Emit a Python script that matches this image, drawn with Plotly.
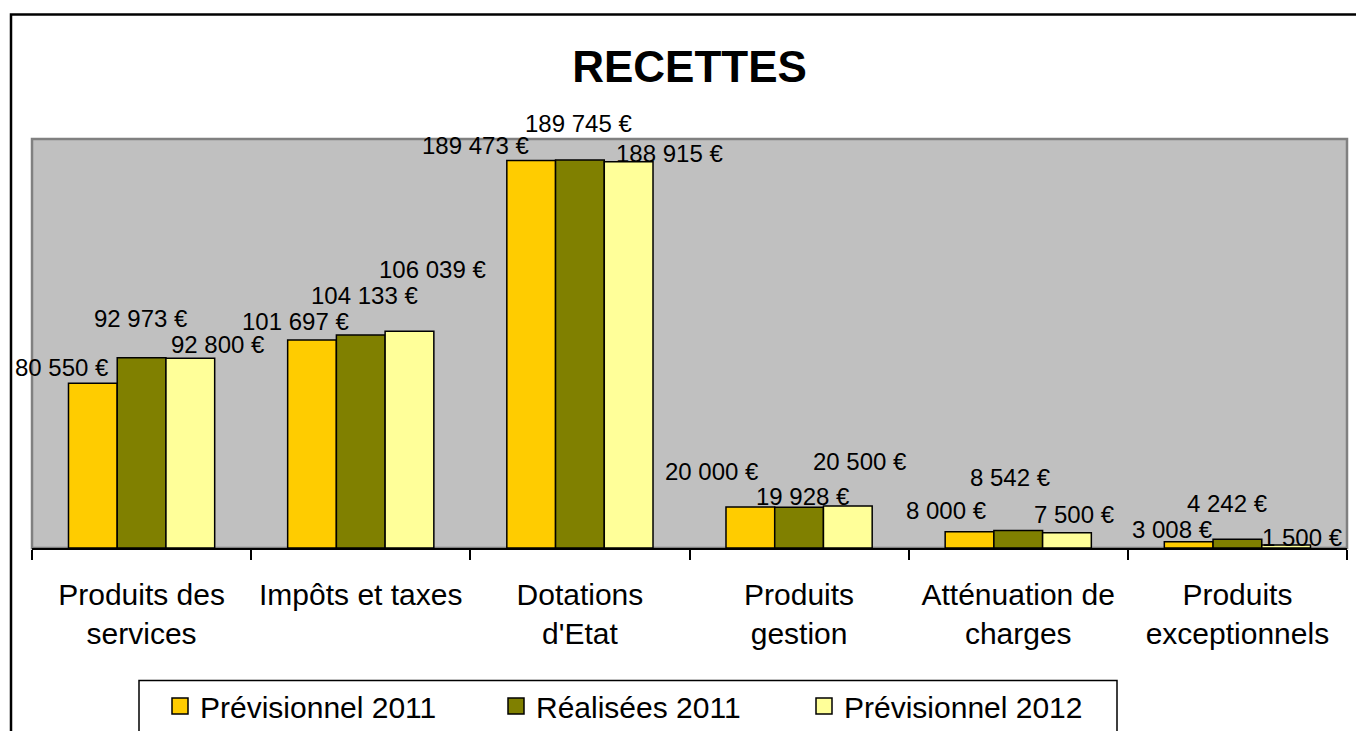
import plotly.graph_objects as go

categories = ["Produits des<br>services", "Impôts et taxes", "Dotations<br>d'Etat",
              "Produits<br>gestion", "Atténuation de<br>charges", "Produits<br>exceptionnels"]
series_names = ["Prévisionnel 2011", "Réalisées 2011", "Prévisionnel 2012"]
prev_2011 = [80550, 101697, 189473, 20000, 8000, 3008]
real_2011 = [92973, 104133, 189745, 19928, 8542, 4242]
prev_2012 = [92800, 106039, 188915, 20500, 7500, 1500]
colors = ["#FFCC00", "#808000", "#FFFF99"]

# label offsets (px) relative to category centre / bar top, as moved in the original
label_dx = [[-80, -65, -104, -87, -72, -65],
            [-1, 4, -1, 4, -8, -10],
            [76, 72, 90, 61, 56, 65]]
label_dy = [[16, 19, 15, 36, 21, 12],
            [39, 40, 36, 11, 53, 36],
            [14, 62, 8, 45, 18, 7]]
legend_widths = [291, 263, 262]

FONT = "Liberation Sans, Arial, sans-serif"

def fmt(v):
    return f"{v:,}".replace(",", " ") + " €"

fig = go.Figure()
all_series = [prev_2011, real_2011, prev_2012]
for i, (name, vals) in enumerate(zip(series_names, all_series)):
    fig.add_trace(go.Bar(
        x=categories, y=vals, name=name,
        marker=dict(color=colors[i], line=dict(color="black", width=1.5)),
        showlegend=False, legendgroup=name,
        hoverinfo="skip",
    ))
# legend entries with larger square swatches
for i, name in enumerate(series_names):
    fig.add_trace(go.Scatter(
        x=[None], y=[None], mode="markers", name=name, legendgroup=name,
        marker=dict(symbol="square", size=16, color=colors[i],
                    line=dict(color="black", width=1.5)),
        legendwidth=legend_widths[i], hoverinfo="skip",
    ))

annotations = []
for i, vals in enumerate(all_series):
    for j, v in enumerate(vals):
        annotations.append(dict(
            x=categories[j], y=v, xref="x", yref="y",
            text=fmt(v), showarrow=False,
            xanchor="center", yanchor="middle",
            xshift=label_dx[i][j], yshift=label_dy[i][j],
            font=dict(family=FONT, size=24, color="black"),
        ))

W, H = 1356, 731
L, R, T, B = 32, 9, 139, 183
pw, ph = W - L - R, H - T - B

def px_x(x):
    return (x - L) / pw

def px_y(y):
    return (H - B - y) / ph

shapes = [
    dict(type="rect", xref="paper", yref="paper", x0=0, x1=1, y0=0, y1=1,
         line=dict(color="#808080", width=2.5), layer="below"),
    # outer chart border (left and top edges visible)
    dict(type="path", xref="paper", yref="paper",
         path=f"M {px_x(11)},{px_y(760)} L {px_x(11)},{px_y(14.5)} L {px_x(1400)},{px_y(14.5)}",
         line=dict(color="black", width=2.5), layer="above"),
    # legend frame
    dict(type="rect", xref="paper", yref="paper",
         x0=px_x(139), x1=px_x(1117), y0=px_y(745), y1=px_y(680.5),
         line=dict(color="black", width=1.5), fillcolor="white", layer="above"),
]

fig.update_layout(
    width=W, height=H,
    margin=dict(l=L, r=R, t=T, b=B, autoexpand=False),
    paper_bgcolor="white", plot_bgcolor="#C0C0C0",
    barmode="group", bargap=0.333, bargroupgap=0,
    font=dict(family=FONT, color="black"),
    title=dict(text="<b>RECETTES</b>", x=0.5, xref="paper", xanchor="center",
               y=1 - 67 / H, yref="container", yanchor="middle",
               font=dict(family=FONT, size=44, color="black")),
    xaxis=dict(range=[-0.5, len(categories) - 0.5],
               showline=True, linecolor="black", linewidth=2,
               ticks="outside", ticklen=10, tickwidth=1.5, tickcolor="black",
               tickson="boundaries", ticklabelstandoff=19,
               tickfont=dict(family=FONT, size=30, color="black"),
               showgrid=False, zeroline=False, fixedrange=True),
    yaxis=dict(range=[0, 200000], visible=False, showgrid=False, zeroline=False, fixedrange=True),
    showlegend=True,
    legend=dict(orientation="h", x=px_x(160), y=px_y(680), xanchor="left", yanchor="top",
                bgcolor="rgba(0,0,0,0)", borderwidth=0,
                font=dict(family=FONT, size=30, color="black"),
                traceorder="normal"),
    annotations=annotations,
    shapes=shapes,
)

fig.write_html("out.html", config={"displayModeBar": False},
               post_script="document.body.style.margin='0';document.body.style.overflow='hidden';")
